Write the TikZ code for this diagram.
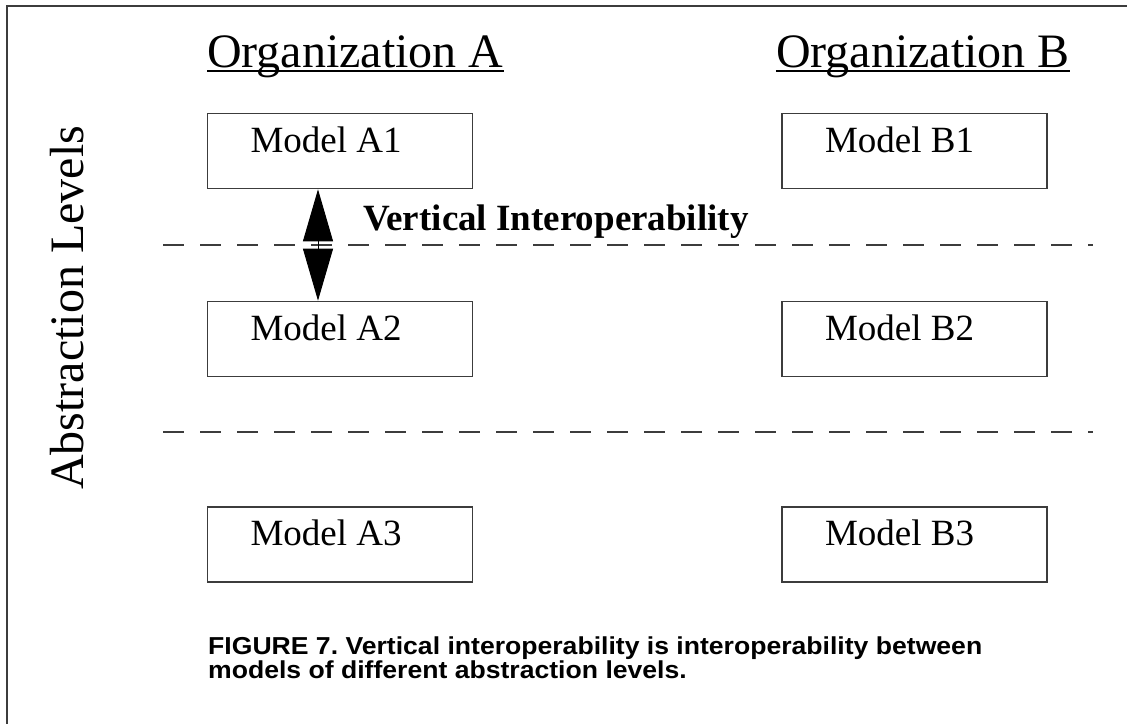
\documentclass[tikz,border=0pt]{standalone}
\usepackage{fontspec}
\setmainfont{Liberation Serif}
\newfontfamily\capfont{Liberation Sans}
\usetikzlibrary{positioning, calc, arrows.meta}
\definecolor{linegray}{RGB}{60,60,60}
\frenchspacing

\begin{document}
\begin{tikzpicture}
        [x=1pt, y=-1pt,
        modelbox/.style={draw=linegray, line width=1.6pt, minimum width=265pt, minimum height=75pt,
            inner xsep=43pt, inner ysep=0pt, text width=179pt, align=flush left,
            text height=26pt, text depth=24pt, font=\fontsize{37}{40}\selectfont},
        level line/.style={linegray, line width=1.5pt, dash pattern=on 21pt off 16pt},
        vert arrow/.style={{Triangle[length=52pt,width=30pt]}-{Triangle[length=52pt,width=30pt]}, line width=1pt},
        big title/.style={inner sep=0pt, font=\fontsize{48}{52}\selectfont}]
            \useasboundingbox (0,0) rectangle (1127,724);
            %frame
            \draw[linegray, line width=1.5pt] (1127,6) -- (7,6) -- (7,724);
            %titles
            \node (orgA) at (207,67)[big title, anchor=base west]{Organization A};
            \node (orgB) at (1070,67)[big title, anchor=base east]{Organization B};
            \draw[line width=1.4pt] ([yshift=-4pt]orgA.base west) -- ([yshift=-4pt]orgA.base east);
            \draw[line width=1.4pt] ([yshift=-4pt]orgB.base west) -- ([yshift=-4pt]orgB.base east);
            \node (levels) at (83,490)[big title, rotate=90, anchor=base west]{Abstraction Levels};
            %models
            \node (A1) at (340,151)[modelbox]{Model A1};
            \node (A2) at (340,339)[modelbox]{Model A2};
            \node (A3) at (340,544.5)[modelbox]{Model A3};
            \node (B1) at (914.5,151)[modelbox]{Model B1};
            \node (B2) at (914.5,339)[modelbox]{Model B2};
            \node (B3) at (914.5,544.5)[modelbox]{Model B3};
            %level separators
            \coordinate (l1w) at (163,245);
            \coordinate (l1e) at (1093,245);
            \coordinate (l2w) at (163,432);
            \coordinate (l2e) at (1093,432);
            \draw[level line] (l1w) -- (l1e);
            \draw[level line] (l2w) -- (l2e);
            %vertical interoperability
            \draw[vert arrow] ([xshift=-22pt]A1.south) -- ([xshift=-22pt]A2.north);
            \node (vlabel) at (363,230)[inner sep=0pt, anchor=base west, font=\bfseries\fontsize{37}{40}\selectfont]{Vertical Interoperability};
            %caption
            \node (caption) at (208,678)[inner sep=0pt, anchor=base west, align=left,
                font=\capfont\bfseries\fontsize{24.5}{24}\selectfont]{\scalebox{1.085}[1]{FIGURE 7. Vertical interoperability is interoperability between}\\
                \scalebox{1.085}[1]{models of different abstraction levels.}};
    \end{tikzpicture}
\end{document}
